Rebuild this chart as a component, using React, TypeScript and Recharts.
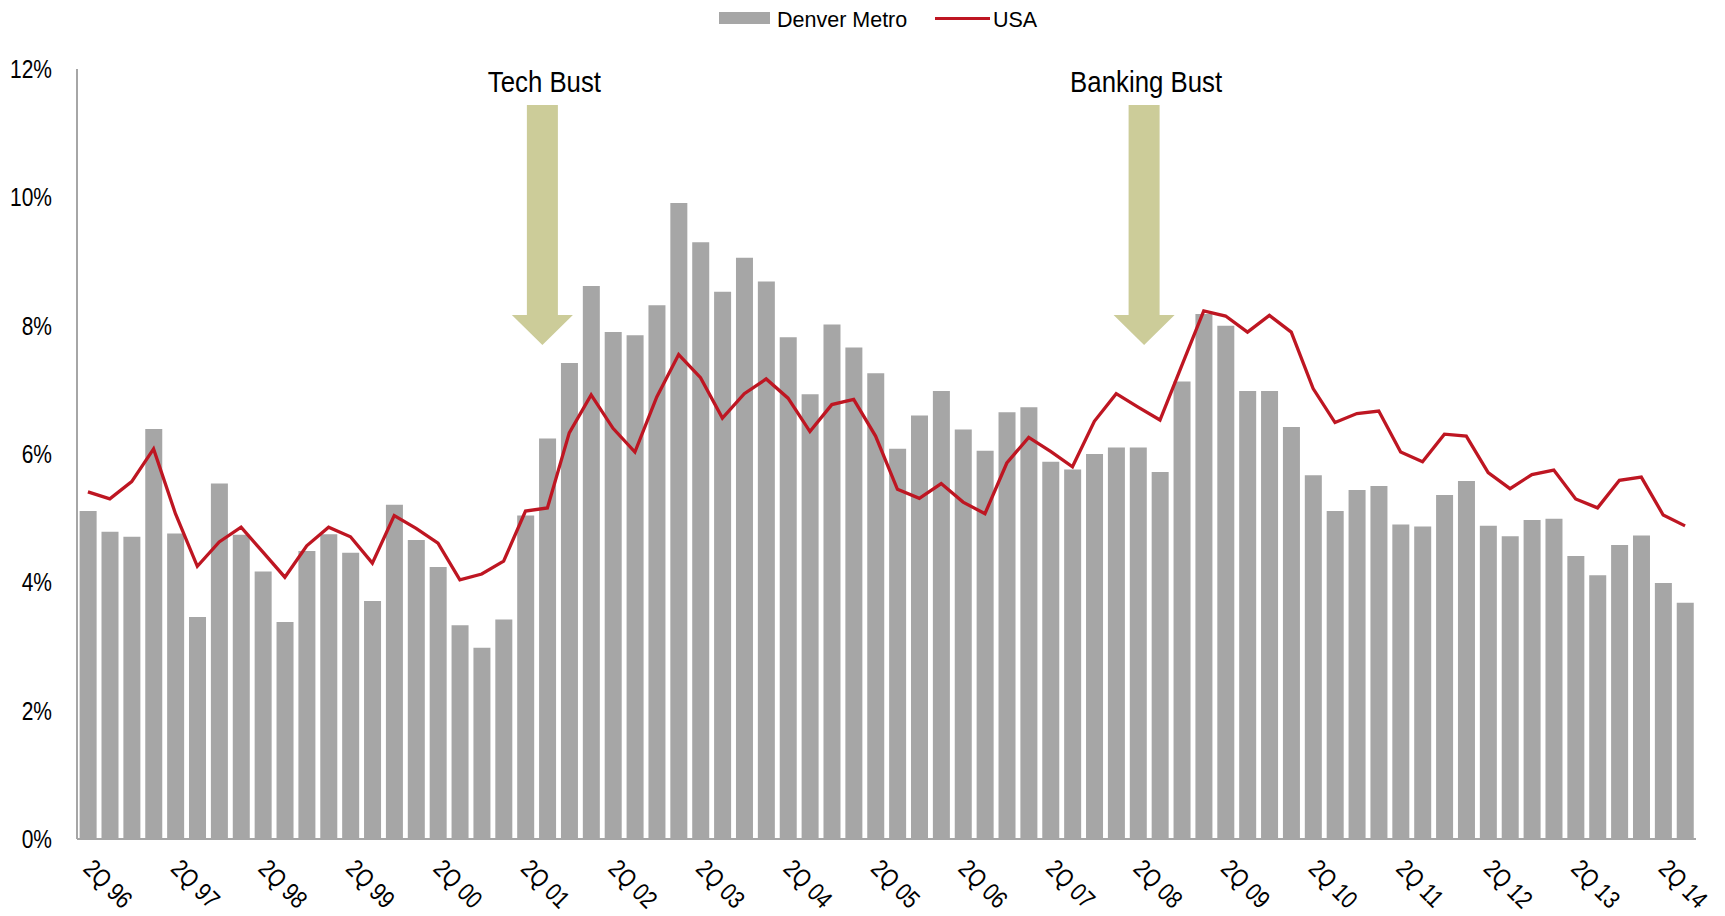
import { ComposedChart, Bar, Line, XAxis, YAxis, Legend, ReferenceDot } from 'recharts';

const FONT = '"Liberation Sans", Arial, sans-serif';
const BAR = '#A6A6A6';
const RED = '#BE1622';
const ARROW = '#CCCC99';

const quarters = [
  '2Q 96', '3Q 96', '4Q 96',
  '1Q 97', '2Q 97', '3Q 97', '4Q 97',
  '1Q 98', '2Q 98', '3Q 98', '4Q 98',
  '1Q 99', '2Q 99', '3Q 99', '4Q 99',
  '1Q 00', '2Q 00', '3Q 00', '4Q 00',
  '1Q 01', '2Q 01', '3Q 01', '4Q 01',
  '1Q 02', '2Q 02', '3Q 02', '4Q 02',
  '1Q 03', '2Q 03', '3Q 03', '4Q 03',
  '1Q 04', '2Q 04', '3Q 04', '4Q 04',
  '1Q 05', '2Q 05', '3Q 05', '4Q 05',
  '1Q 06', '2Q 06', '3Q 06', '4Q 06',
  '1Q 07', '2Q 07', '3Q 07', '4Q 07',
  '1Q 08', '2Q 08', '3Q 08', '4Q 08',
  '1Q 09', '2Q 09', '3Q 09', '4Q 09',
  '1Q 10', '2Q 10', '3Q 10', '4Q 10',
  '1Q 11', '2Q 11', '3Q 11', '4Q 11',
  '1Q 12', '2Q 12', '3Q 12', '4Q 12',
  '1Q 13', '2Q 13', '3Q 13', '4Q 13',
  '1Q 14', '2Q 14', '3Q 14',
];

// Denver Metro vacancy (%)
const denver = [
  5.11, 4.79, 4.71,
  6.39, 4.76, 3.46, 5.54,
  4.74, 4.17, 3.38, 4.49,
  4.75, 4.46, 3.71, 5.21,
  4.66, 4.24, 3.33, 2.98,
  3.42, 5.04, 6.24, 7.42,
  8.62, 7.9, 7.85, 8.32,
  9.91, 9.3, 8.53, 9.06,
  8.69, 7.82, 6.93, 8.02,
  7.66, 7.26, 6.08, 6.6,
  6.98, 6.38, 6.05, 6.65,
  6.73, 5.88, 5.76, 6.0,
  6.1, 6.1, 5.72, 7.13,
  8.18, 8.0, 6.98, 6.98,
  6.42, 5.67, 5.11, 5.44,
  5.5, 4.9, 4.87, 5.36,
  5.58, 4.88, 4.72, 4.97,
  4.99, 4.41, 4.11, 4.58,
  4.73, 3.99, 3.68,
];

// USA (%)
const usa = [
  5.41, 5.3, 5.57,
  6.08, 5.07, 4.25, 4.63,
  4.86, 4.47, 4.08, 4.57,
  4.86, 4.71, 4.3, 5.04,
  4.84, 4.61, 4.04, 4.13,
  4.33, 5.11, 5.16, 6.33,
  6.92, 6.4, 6.03, 6.89,
  7.55, 7.19, 6.56, 6.94,
  7.17, 6.87, 6.35, 6.77,
  6.85, 6.28, 5.45, 5.31,
  5.54, 5.25, 5.07, 5.86,
  6.26, 6.04, 5.8, 6.51,
  6.94, 6.73, 6.53, 7.38,
  8.23, 8.15, 7.9, 8.16,
  7.9, 7.02, 6.49, 6.63,
  6.67, 6.03, 5.88, 6.31,
  6.28, 5.71, 5.46, 5.68,
  5.75, 5.3, 5.16, 5.59,
  5.64, 5.05, 4.88,
];

const yTicks = [0, 2, 4, 6, 8, 10, 12];

const busts = [
  { label: 'Tech Bust', quarter: '3Q 01', tip: 7.7 },
  { label: 'Banking Bust', quarter: '2Q 08', tip: 7.7 },
];
const bustShift = [-5, 6];

const data = quarters.map((q, i) => ({ q, denver: denver[i], usa: usa[i] }));

// the original uses a condensed face; squeeze Liberation Sans horizontally
const XTick = ({ x, y, payload }: any) => (
  <text
    x={0}
    y={0}
    transform={`translate(${x - 6},${y + 31}) rotate(45) scale(0.83,1)`}
    textAnchor="start"
    fontSize={25}
    fontFamily={FONT}
    fill="#000"
  >
    {payload.value}
  </text>
);

const YTick = ({ x, y, payload }: any) => (
  <text
    x={0}
    y={0}
    dy="0.355em"
    transform={`translate(${x},${y}) scale(0.84,1)`}
    textAnchor="end"
    fontSize={25}
    fontFamily={FONT}
    fill="#000"
  >
    {`${payload.value}%`}
  </text>
);

const Arrow = ({ cx, cy, label, dx }: any) => {
  const x = cx + dx;
  const pts = [
    [x - 15.5, cy - 240],
    [x + 15.5, cy - 240],
    [x + 15.5, cy - 30],
    [x + 30.5, cy - 30],
    [x, cy],
    [x - 30.5, cy - 30],
    [x - 15.5, cy - 30],
  ]
    .map((p) => p.join(','))
    .join(' ');
  return (
    <g>
      <polygon points={pts} fill={ARROW} />
      <text
        x={0}
        y={0}
        transform={`translate(${x + 2},${cy - 253}) scale(0.86,1)`}
        textAnchor="middle"
        fontSize={30}
        fontFamily={FONT}
        fill="#000"
      >
        {label}
      </text>
    </g>
  );
};

const LegendContent = () => (
  <svg width={330} height={36} style={{ display: 'block' }}>
    <rect x={0} y={12} width={51} height={12} fill={BAR} />
    <text x={58} y={27} fontSize={21.5} fontFamily={FONT} fill="#000">Denver Metro</text>
    <line x1={216} x2={271} y1={18.5} y2={18.5} stroke={RED} strokeWidth={3} />
    <text x={274} y={27} fontSize={21.5} fontFamily={FONT} fill="#000">USA</text>
  </svg>
);

export default function App() {
  return (
    <div style={{ position: 'absolute', left: 0, top: 0, background: '#fff' }}>
      <ComposedChart
        width={1725}
        height={916}
        data={data}
        margin={{ top: 69, right: 29, bottom: 0, left: 0 }}
        barCategoryGap="12%"
      >
        <XAxis
          dataKey="q"
          interval={3}
          height={77}
          tickLine={false}
          tickSize={0}
          tickMargin={0}
          axisLine={{ stroke: BAR, strokeWidth: 2 }}
          tick={<XTick />}
        />
        <YAxis
          width={77}
          domain={[0, 12]}
          ticks={yTicks}
          tickLine={false}
          tickSize={0}
          tickMargin={25}
          axisLine={{ stroke: BAR, strokeWidth: 2 }}
          tick={<YTick />}
        />
        <Legend
          verticalAlign="middle"
          layout="horizontal"
          wrapperStyle={{ top: 0, left: 719, width: 'auto' }}
          content={<LegendContent />}
        />
        <Bar dataKey="denver" name="Denver Metro" fill={BAR} isAnimationActive={false} />
        <Line
          dataKey="usa"
          name="USA"
          type="linear"
          stroke={RED}
          strokeWidth={3.3}
          dot={false}
          activeDot={false}
          isAnimationActive={false}
        />
        {busts.map((b, i) => (
          <ReferenceDot
            key={b.label}
            x={b.quarter}
            y={b.tip}
            r={0}
            ifOverflow="visible"
            shape={(p: any) => <Arrow {...p} label={b.label} dx={bustShift[i]} />}
          />
        ))}
      </ComposedChart>
    </div>
  );
}
